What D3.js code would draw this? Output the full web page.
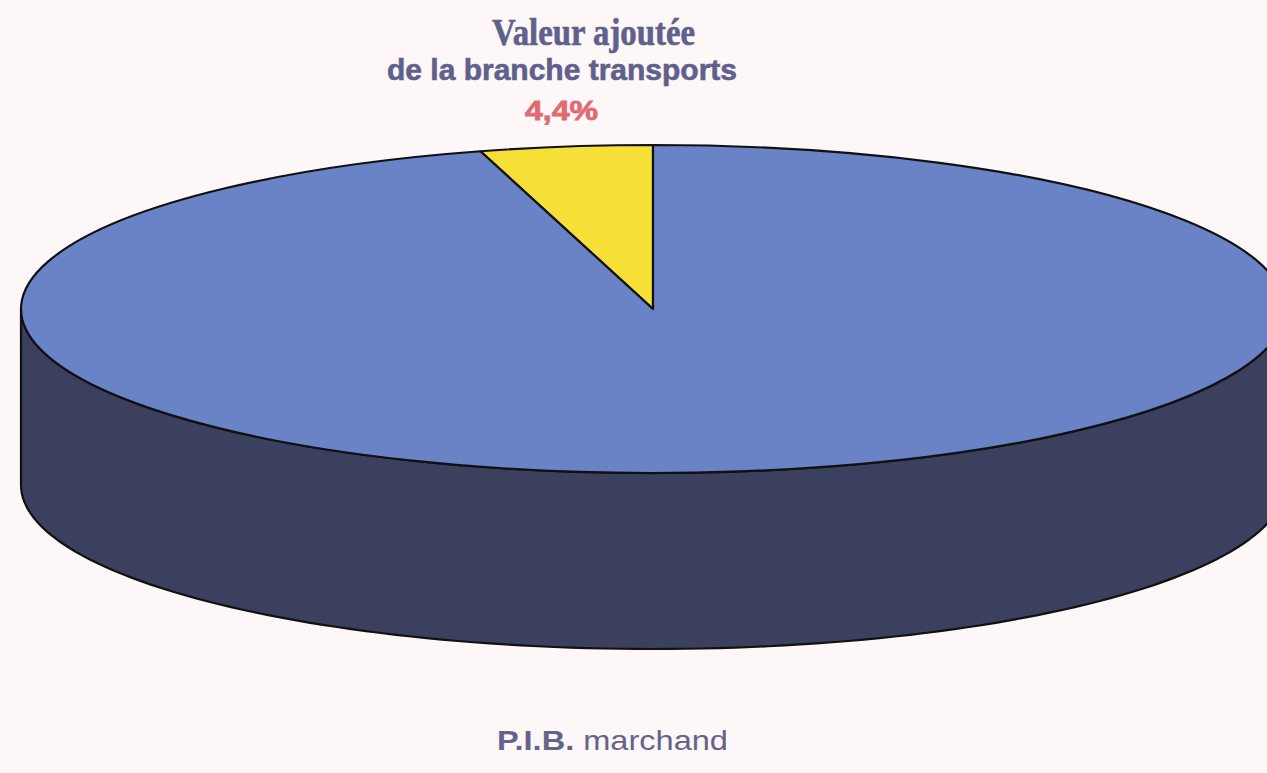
<!DOCTYPE html>
<html>
<head>
<meta charset="utf-8">
<script src="https://cdn.jsdelivr.net/npm/d3@7"></script>
<style>
  body { margin: 0; background: #fdf7f7; }
  svg { display: block; }
</style>
</head>
<body>
<svg width="1267" height="773"></svg>
<script>
// data
const labels = ["Valeur ajoutée de la branche transports", "P.I.B. marchand"];
const values = [4.4, 95.6];
const topColors = ["#f6df36", "#6a82c6"];
const sideColors = ["#b8a528", "#3b405e"];

// 3d pie geometry
const cx = 653, cy = 309;
const rx = 632, ry = 164;
const depth = 176;

const svg = d3.select("svg");

// transport slice sits just left of 12 o'clock
const start = -2 * Math.PI * values[0] / d3.sum(values);
const pie = d3.pie().sort(null).startAngle(start).endAngle(start + 2 * Math.PI);
const arcs = pie(values);

// point on the ellipse for a d3 angle (0 = top, clockwise)
function pt(a, dy) {
    return [cx + rx * Math.sin(a), cy - ry * Math.cos(a) + (dy || 0)];
}

// side wall: only the front half (angles pi/2 .. 3pi/2) is visible
function sidePath(d) {
    let a0 = d.startAngle, a1 = d.endAngle;
    const lo = Math.PI / 2, hi = 3 * Math.PI / 2;
    a0 = Math.max(a0, lo);
    a1 = Math.min(a1, hi);
    if (a1 <= a0) return null;
    const n = 120;
    const upper = d3.range(n + 1).map(i => pt(a0 + (a1 - a0) * i / n));
    const lower = upper.map(p => [p[0], p[1] + depth]).reverse();
    return d3.line()(upper.concat(lower)) + "Z";
}

svg.selectAll(".side")
    .data(arcs)
    .enter().append("path")
    .attr("class", "side")
    .attr("d", sidePath)
    .attr("fill", (d, i) => sideColors[i])
    .attr("stroke", "#111")
    .attr("stroke-width", 2.2)
    .attr("stroke-linejoin", "round");

// top face drawn with a unit arc scaled into an ellipse
const arc = d3.arc().innerRadius(0).outerRadius(1);
svg.selectAll(".top")
    .data(arcs)
    .enter().append("path")
    .attr("class", "top")
    .attr("transform", "translate(" + cx + "," + cy + ") scale(" + rx + "," + ry + ")")
    .attr("d", arc)
    .attr("fill", (d, i) => topColors[i])
    .attr("stroke", "#111")
    .attr("stroke-width", 2.2)
    .attr("stroke-linejoin", "round")
    .attr("vector-effect", "non-scaling-stroke");

// labels
const titleColor = "#60608c";
svg.append("text")
    .attr("x", 492).attr("y", 45)
    .attr("font-family", "Liberation Serif, Times New Roman, serif")
    .attr("font-weight", "bold")
    .attr("font-size", 37)
    .attr("textLength", 203)
    .attr("lengthAdjust", "spacingAndGlyphs")
    .attr("fill", titleColor)
    .attr("stroke", titleColor)
    .attr("stroke-width", 0.6)
    .text("Valeur ajoutée");

svg.append("text")
    .attr("x", 387).attr("y", 80)
    .attr("font-family", "Liberation Sans, Arial, sans-serif")
    .attr("font-weight", "bold")
    .attr("font-size", 30)
    .attr("textLength", 350)
    .attr("lengthAdjust", "spacingAndGlyphs")
    .attr("fill", titleColor)
    .attr("stroke", titleColor)
    .attr("stroke-width", 0.6)
    .text("de la branche transports");

svg.append("text")
    .attr("x", 525).attr("y", 120)
    .attr("font-family", "Liberation Sans, Arial, sans-serif")
    .attr("font-weight", "bold")
    .attr("font-size", 28)
    .attr("textLength", 73)
    .attr("lengthAdjust", "spacingAndGlyphs")
    .attr("fill", "#e06a72")
    .attr("stroke", "#e06a72")
    .attr("stroke-width", 0.8)
    .text(values[0].toString().replace(".", ",") + "%");

const bottom = svg.append("text")
    .attr("x", 497).attr("y", 750)
    .attr("font-family", "Liberation Sans, Arial, sans-serif")
    .attr("font-size", 28)
    .attr("textLength", 231)
    .attr("lengthAdjust", "spacingAndGlyphs")
    .attr("fill", "#64648a");
bottom.append("tspan").attr("font-weight", "bold").text("P.I.B.");
bottom.append("tspan").text(" marchand");
</script>
</body>
</html>
